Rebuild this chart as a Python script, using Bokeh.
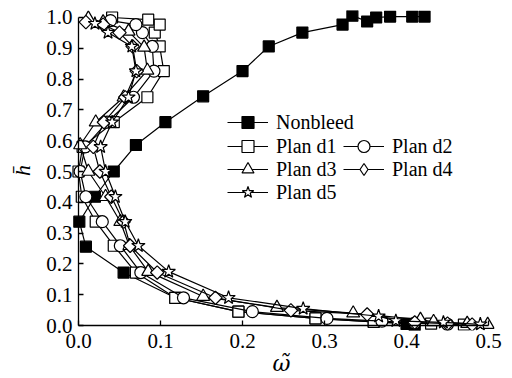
import numpy as np
from bokeh.plotting import figure
from bokeh.models import (Range1d, FixedTicker, PrintfTickFormatter, Legend,
                          LegendItem, LinearAxis)
from bokeh.embed import file_html
from bokeh.resources import INLINE

# ---------------- data ----------------
x_ticks = [0.0, 0.1, 0.2, 0.3, 0.4, 0.5]
y_ticks = [0.0, 0.1, 0.2, 0.3, 0.4, 0.5, 0.6, 0.7, 0.8, 0.9, 1.0]

nonbleed_x = [0.41, 0.40, 0.36, 0.289, 0.195, 0.118, 0.055, 0.009, 0.001, 0.02, 0.043,
              0.07, 0.106, 0.152, 0.20, 0.232, 0.273, 0.322, 0.334, 0.352, 0.363,
              0.38, 0.407, 0.422]
nonbleed_y = [0.0, 0.005, 0.012, 0.023, 0.045, 0.09, 0.172, 0.256, 0.337, 0.418, 0.5,
              0.586, 0.66, 0.744, 0.826, 0.906, 0.951, 0.977, 1.006, 0.987, 1.0,
              1.003, 1.003, 1.003]

d1_x = [0.47, 0.43, 0.36, 0.289, 0.195, 0.118, 0.07, 0.043, 0.021, 0.004, 0.0,
        0.005, 0.043, 0.084, 0.104, 0.099, 0.093, 0.099, 0.085, 0.041]
d1_y = [0.003, 0.006, 0.012, 0.023, 0.045, 0.09, 0.172, 0.259, 0.337, 0.418, 0.5,
        0.58, 0.66, 0.741, 0.826, 0.906, 0.951, 0.977, 0.993, 1.0]

d2_x = [0.45, 0.41, 0.37, 0.303, 0.212, 0.128, 0.076, 0.051, 0.029, 0.009, 0.002,
        0.008, 0.035, 0.067, 0.092, 0.09, 0.078, 0.07, 0.039]
d2_y = [0.004, 0.008, 0.014, 0.023, 0.045, 0.09, 0.172, 0.259, 0.337, 0.418, 0.5,
        0.58, 0.66, 0.741, 0.826, 0.906, 0.951, 0.977, 0.99]

d3_x = [0.499, 0.474, 0.433, 0.417, 0.335, 0.242, 0.152, 0.085, 0.062, 0.051, 0.033,
        0.012, 0.002, 0.021, 0.055, 0.084, 0.08, 0.061, 0.03, 0.012]
d3_y = [0.003, 0.006, 0.012, 0.019, 0.04, 0.058, 0.094, 0.175, 0.259, 0.337, 0.418,
        0.5, 0.586, 0.66, 0.741, 0.828, 0.903, 0.955, 0.985, 0.997]

d4_x = [0.48, 0.45, 0.41, 0.352, 0.259, 0.167, 0.096, 0.063, 0.055, 0.04, 0.026,
        0.018, 0.031, 0.057, 0.071, 0.066, 0.05, 0.03, 0.009]
d4_y = [0.003, 0.006, 0.01, 0.036, 0.049, 0.09, 0.172, 0.259, 0.337, 0.418, 0.5,
        0.58, 0.66, 0.741, 0.826, 0.906, 0.951, 0.977, 0.985]

d5_x = [0.49, 0.445, 0.387, 0.366, 0.274, 0.183, 0.11, 0.073, 0.057, 0.045, 0.033,
        0.027, 0.041, 0.061, 0.07, 0.065, 0.036, 0.02]
d5_y = [0.004, 0.01, 0.015, 0.03, 0.055, 0.09, 0.175, 0.259, 0.337, 0.418, 0.5,
        0.58, 0.66, 0.741, 0.826, 0.906, 0.951, 0.98]

labels = ["Nonbleed", "Plan d1", "Plan d2", "Plan d3", "Plan d4", "Plan d5"]

# ---------------- figure ----------------
FONT = "Liberation Serif"
p = figure(width=512, height=378, output_backend="svg", toolbar_location=None,
           x_range=Range1d(-0.0122, 0.5073), y_range=Range1d(-0.0162, 1.0227),
           min_border_left=68, min_border_right=18, min_border_top=10,
           min_border_bottom=47)
p.outline_line_color = None
p.xgrid.visible = False
p.ygrid.visible = False
p.background_fill_color = "white"

x_bounds = (x_ticks[0], x_ticks[-1])
y_bounds = (y_ticks[0], y_ticks[-1])

# label-only axes in the side panels
for ax, ticks, bnd in ((p.xaxis[0], x_ticks, x_bounds), (p.yaxis[0], y_ticks, y_bounds)):
    ax.ticker = FixedTicker(ticks=ticks)
    ax.formatter = PrintfTickFormatter(format="%.1f")
    ax.bounds = bnd
    ax.axis_line_color = None
    ax.major_tick_line_color = None
    ax.minor_tick_line_color = None
    ax.major_tick_in = 0
    ax.major_tick_out = 0
    ax.major_label_text_font = FONT
    ax.major_label_text_font_size = "21px"
    ax.major_label_text_color = "black"
    ax.axis_label_text_font_style = "italic"
    ax.axis_label_text_font_size = "22px"
    ax.axis_label_text_color = "black"

p.xaxis[0].major_label_standoff = 3
p.yaxis[0].major_label_standoff = -4
p.xaxis[0].axis_label = "\u03c9\u0303"
p.yaxis[0].axis_label = "h\u0304"
p.xaxis[0].axis_label_text_font = "DejaVu Serif"
p.yaxis[0].axis_label_text_font = FONT
p.xaxis[0].axis_label_standoff = 0
p.yaxis[0].axis_label_standoff = 8

# axis lines and inward ticks placed at the data origin
for side, ticks, bnd in (("below", x_ticks, x_bounds), ("left", y_ticks, y_bounds)):
    ax = LinearAxis(fixed_location=0.0, bounds=bnd, ticker=FixedTicker(ticks=ticks),
                    axis_line_width=1.3, axis_line_color="black",
                    major_tick_line_color="black", major_tick_line_width=1.3,
                    major_tick_in=5, major_tick_out=0,
                    minor_tick_line_color=None, major_label_text_color=None)
    p.add_layout(ax, side)

series = [
    (nonbleed_x, nonbleed_y, dict(marker="square", size=11, fill_color="black")),
    (d1_x, d1_y, dict(marker="square", size=11, fill_color="white")),
    (d2_x, d2_y, dict(marker="circle", size=12, fill_color="white")),
    (d3_x, d3_y, dict(marker="triangle", size=13, fill_color="white")),
    (d4_x, d4_y, dict(marker="square", size=9.5, angle=np.pi / 4, fill_color="white")),
    (d5_x, d5_y, dict(marker="star", size=14, fill_color="white")),
]

items = []
for i, ((xs, ys, kw), lab) in enumerate(zip(series, labels)):
    lr = p.line(xs, ys, line_color="black", line_width=1.2)
    sr = p.scatter(xs, ys, line_color="black", line_width=1.2, **kw)
    if i == 4:
        # hidden twin so the legend shows an upright diamond
        sr = p.scatter(xs, ys, marker="diamond", size=14, line_color="black",
                       line_width=1.2, fill_color="white", visible=False)
    items.append(LegendItem(label=lab, renderers=[lr, sr]))

common = dict(glyph_width=41, glyph_height=30, label_height=30, spacing=0,
              padding=0, margin=0, label_standoff=8,
              label_text_font=FONT, label_text_font_size="20px",
              label_text_color="black", border_line_color=None,
              background_fill_alpha=0, inactive_fill_alpha=0)

# one legend per entry, laid out in the reference's rows/columns (screen px)
legend_slots = [(159, 193), (159, 169), (275, 169), (159, 146), (275, 146), (159, 123)]
for item, loc in zip(items, legend_slots):
    p.add_layout(Legend(items=[item], location=loc, **common))

open("out.html", "w").write(file_html(p, INLINE))
